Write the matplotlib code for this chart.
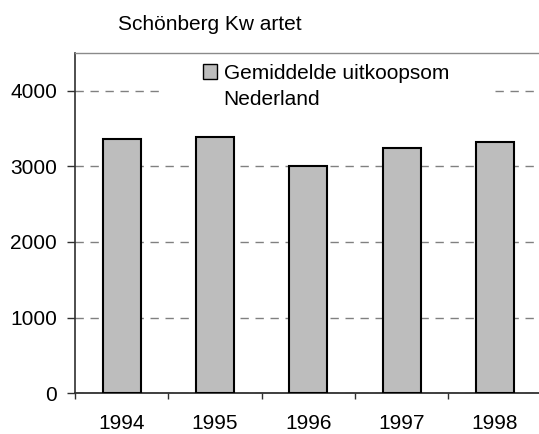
import matplotlib
matplotlib.use('Agg')
import matplotlib.pyplot as plt
from matplotlib.patches import Rectangle

# data
years = ['1994', '1995', '1996', '1997', '1998']
uitkoopsom = [3365, 3390, 3000, 3235, 3315]
y_ticks = [0, 1000, 2000, 3000, 4000]
title = 'Schönberg Kw artet'
legend_line1 = 'Gemiddelde uitkoopsom'
legend_line2 = 'Nederland'

plt.rcParams['font.family'] = ['Liberation Sans', 'DejaVu Sans']
plt.rcParams['font.size'] = 15

fig = plt.figure(figsize=(5.39, 4.34), dpi=100)
ax = fig.add_axes([0.1391, 0.0938, 0.866, 0.7848])

x = list(range(len(years)))
bars = ax.bar(x, uitkoopsom, width=0.41, color='#bdbdbd', edgecolor='black',
              linewidth=1.5, zorder=3)

ax.set_xlim(-0.5, len(years) - 0.5)
ax.set_ylim(0, 4500)
ax.set_yticks(y_ticks)

# ticks on category boundaries, labels in the middle
ax.set_xticks([i - 0.5 for i in range(len(years) + 1)])
ax.set_xticklabels([])
ax.set_xticks(x, minor=True)
ax.set_xticklabels(years, minor=True)
ax.tick_params(axis='x', which='major', direction='out', length=4.3, width=1,
               color='#303030')
ax.tick_params(axis='x', which='minor', length=0, pad=15)
ax.tick_params(axis='y', direction='out', length=5.8, width=1, color='#303030', pad=7)

ax.yaxis.grid(True, color='#808080', linewidth=1, linestyle=(0, (6, 4.8)))
ax.set_axisbelow(True)

for side in ['right']:
    ax.spines[side].set_visible(False)
ax.spines['top'].set_color('#8a8a8a')
ax.spines['top'].set_linewidth(1)
ax.spines['left'].set_color('#303030')
ax.spines['left'].set_linewidth(1.2)
ax.spines['bottom'].set_color('#303030')
ax.spines['bottom'].set_linewidth(1.3)

# white area behind the legend hides the grid line
ax.add_patch(Rectangle((0.182, 0.817), 0.707, 0.18, transform=ax.transAxes,
                       facecolor='white', edgecolor='none', zorder=1))

leg = ax.legend([bars], [legend_line1], loc='upper left', bbox_to_anchor=(0.2736, 0.968),
                frameon=False, borderpad=0, borderaxespad=0, handlelength=0.7,
                handleheight=0.7, handletextpad=0.3, fontsize=15)
leg.legend_handles[0].set_linewidth(1)
ax.text(0.317, 0.8473, legend_line2, transform=ax.transAxes, va='baseline', fontsize=15)

fig.text(118 / 539, (434 - 29.5) / 434, title, fontsize=15, va='baseline')

fig.savefig('out.png', dpi=100)
